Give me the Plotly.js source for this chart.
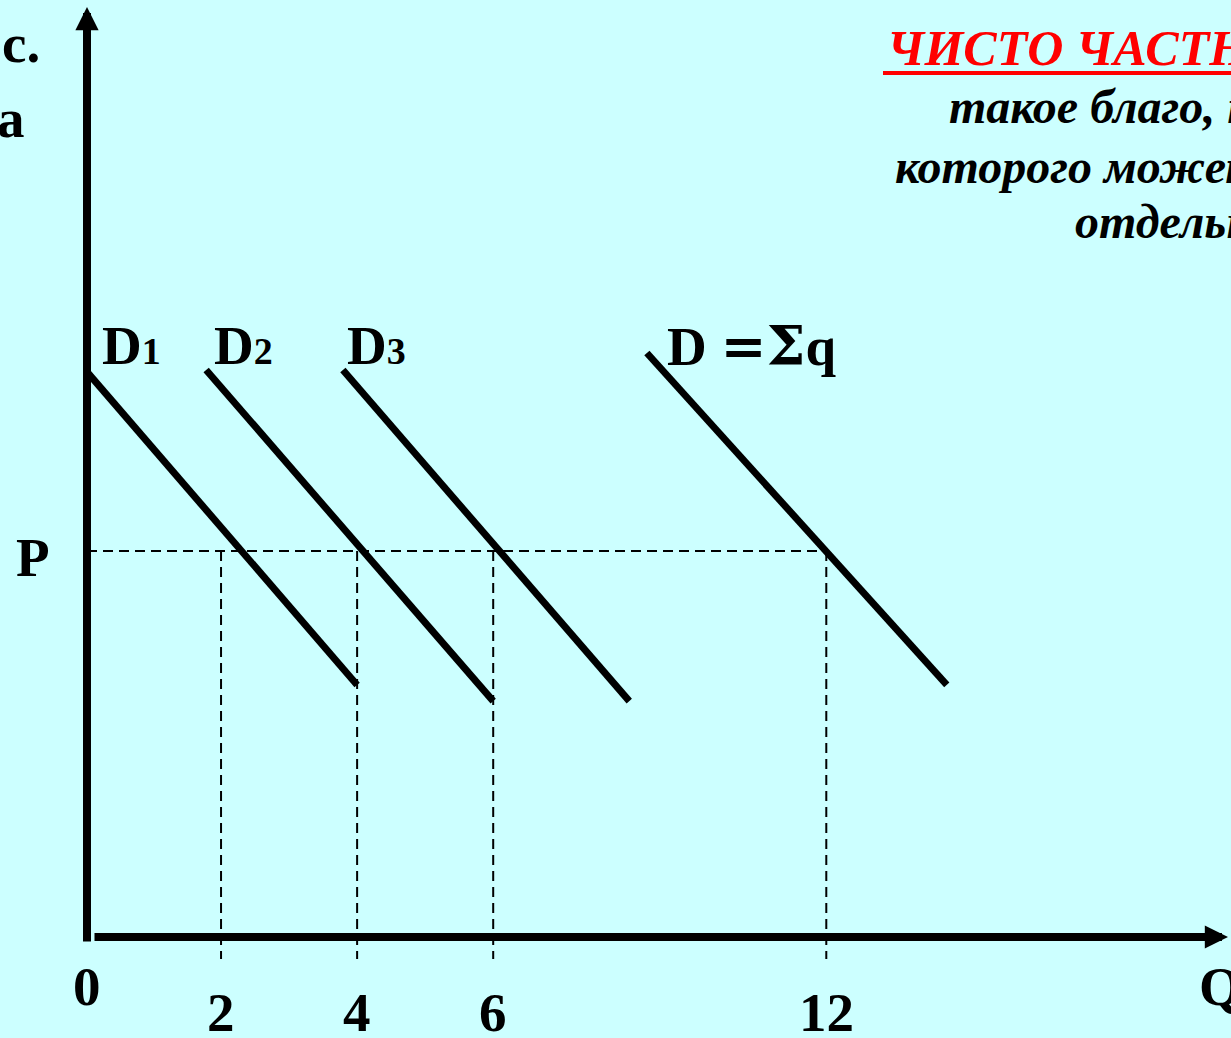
<!DOCTYPE html>
<html>
<head>
<meta charset="utf-8">
<script src="https://cdn.plot.ly/plotly-3.0.1.min.js"></script>
<style>
html,body{margin:0;padding:0;background:#CCFFFF;overflow:hidden;}
#chart{width:1231px;height:1038px;}
</style>
</head>
<body>
<div id="chart"></div>
<script>
// ---- data ----
const curveNames = ['D1', 'D2', 'D3', 'D =Σq'];
const curveQStart = [0.00, 1.76, 3.78, 8.27];
const curveQEnd   = [3.99, 6.00, 8.01, 12.70];
const curvePStart = [14.64, 14.69, 14.69, 15.13];
const curvePEnd   = [6.53, 6.11, 6.11, 6.53];
const priceP = 10;
const priceLabel = 'P';
const qTickLabels = ['0', '2', '4', '6', '12'];
const qTickPos = [0.00, 1.98, 3.99, 6.00, 10.92];
const axisQLabel = 'Q';
const axisPLabelLines = ['с.', 'а'];
const titleText = 'ЧИСТО ЧАСТНО';
const descLines = ['такое благо, п', 'которого может', 'отдельн'];

// ---- layout helpers ----
const W = 1231, H = 1038;
const px = x => x / W;
const py = y => 1 - y / H;
const FONT = 'Liberation Serif, Times New Roman, serif';

const traces = [];
// demand curves
for (let i = 0; i < curveNames.length; i++) {
  traces.push({
    x: [curveQStart[i], curveQEnd[i]],
    y: [curvePStart[i], curvePEnd[i]],
    mode: 'lines', type: 'scatter', name: curveNames[i],
    line: {color: '#000', width: 7}, hoverinfo: 'skip'
  });
}
// dashed price line
traces.push({
  x: [qTickPos[0], qTickPos[qTickPos.length - 1]],
  y: [priceP, priceP],
  mode: 'lines', type: 'scatter',
  line: {color: '#000', width: 2, dash: '10px,6px'}, hoverinfo: 'skip'
});
// dashed quantity drops
for (let i = 1; i < qTickPos.length; i++) {
  traces.push({
    x: [qTickPos[i], qTickPos[i]],
    y: [priceP, -0.57],
    mode: 'lines', type: 'scatter',
    line: {color: '#000', width: 2, dash: '10px,6px'}, hoverinfo: 'skip'
  });
}

const big = {family: FONT, size: 55, color: '#000'};
const ann = [];
// axes arrows
ann.push({xref: 'paper', yref: 'paper', x: px(87), y: py(7), ax: 0, ay: 936,
  axref: 'pixel', ayref: 'pixel', text: '', showarrow: true, arrowhead: 2,
  arrowsize: 0.58, arrowwidth: 8, arrowcolor: '#000', standoff: 0});
ann.push({xref: 'paper', yref: 'paper', x: px(1228), y: py(937), ax: -1135, ay: 0,
  axref: 'pixel', ayref: 'pixel', text: '', showarrow: true, arrowhead: 2,
  arrowsize: 0.58, arrowwidth: 8, arrowcolor: '#000', standoff: 0});

// y axis label (cropped)
ann.push({xref: 'paper', yref: 'paper', x: px(42), y: py(44), xanchor: 'right', yanchor: 'middle',
  text: '<b>' + axisPLabelLines[0] + '</b>', showarrow: false, font: big});
ann.push({xref: 'paper', yref: 'paper', x: px(27), y: py(118), xanchor: 'right', yanchor: 'middle',
  text: '<b>' + axisPLabelLines[1] + '</b>', showarrow: false, font: big});
// P label
ann.push({xref: 'paper', yref: 'y', x: px(33), y: priceP, yshift: -6, xanchor: 'center', yanchor: 'middle',
  text: '<b>' + priceLabel + '</b>', showarrow: false, font: big});
// Q tick labels
for (let i = 0; i < qTickLabels.length; i++) {
  ann.push({xref: 'x', yref: 'paper', x: qTickPos[i], y: py(i === 0 ? 986 : 1012),
    xanchor: 'center', yanchor: 'middle', text: '<b>' + qTickLabels[i] + '</b>',
    showarrow: false, font: big});
}
ann.push({xref: 'paper', yref: 'paper', x: px(1197), y: py(986), xanchor: 'left', yanchor: 'middle',
  text: '<b>' + axisQLabel + '</b>', showarrow: false, font: big});

// curve labels
const labelLeft = [100, 212, 345, 665];
for (let i = 0; i < curveNames.length; i++) {
  const nm = curveNames[i];
  let t;
  if (i < 3) {
    t = '<b>' + nm[0] + '<span style="font-size:38px">' + nm.slice(1) + '</span></b>';
  } else {
    const parts = nm.split(' ');
    t = '<b>' + parts[0] + ' <span style="font-family:DejaVu Serif">' + parts[1].slice(0, 2) +
        '</span>' + parts[1].slice(2) + '</b>';
  }
  ann.push({xref: 'paper', yref: 'paper', x: px(labelLeft[i]), y: py(345), xanchor: 'left', yanchor: 'middle',
    text: t, showarrow: false, font: big});
}

// right-hand text
ann.push({xref: 'paper', yref: 'paper', x: px(885), y: py(48), xanchor: 'left', yanchor: 'middle',
  text: '<b><i>' + titleText + '</i></b>', showarrow: false,
  font: {family: FONT, size: 50, color: '#FF0000'}});
const descLeft = [947, 893, 1073];
const descBase = [122, 182, 237];
for (let i = 0; i < descLines.length; i++) {
  ann.push({xref: 'paper', yref: 'paper', x: px(descLeft[i]), y: py(descBase[i] - 16), xanchor: 'left', yanchor: 'middle',
    text: '<b><i>' + descLines[i] + '</i></b>', showarrow: false,
    font: {family: FONT, size: 48, color: '#000'}});
}

const layout = {
  width: W, height: H,
  margin: {l: 0, r: 0, t: 0, b: 0, pad: 0},
  paper_bgcolor: '#CCFFFF', plot_bgcolor: '#CCFFFF',
  showlegend: false,
  xaxis: {range: [-1.285, 16.898], visible: false, fixedrange: true},
  yaxis: {range: [-2.617, 24.275], visible: false, fixedrange: true},
  annotations: ann,
  shapes: [{type: 'line', xref: 'paper', yref: 'paper', x0: px(883), x1: 1.01, y0: py(73), y1: py(73),
    line: {color: '#FF0000', width: 4}}]
};

Plotly.newPlot('chart', traces, layout, {displayModeBar: false, staticPlot: true});
</script>
</body>
</html>
